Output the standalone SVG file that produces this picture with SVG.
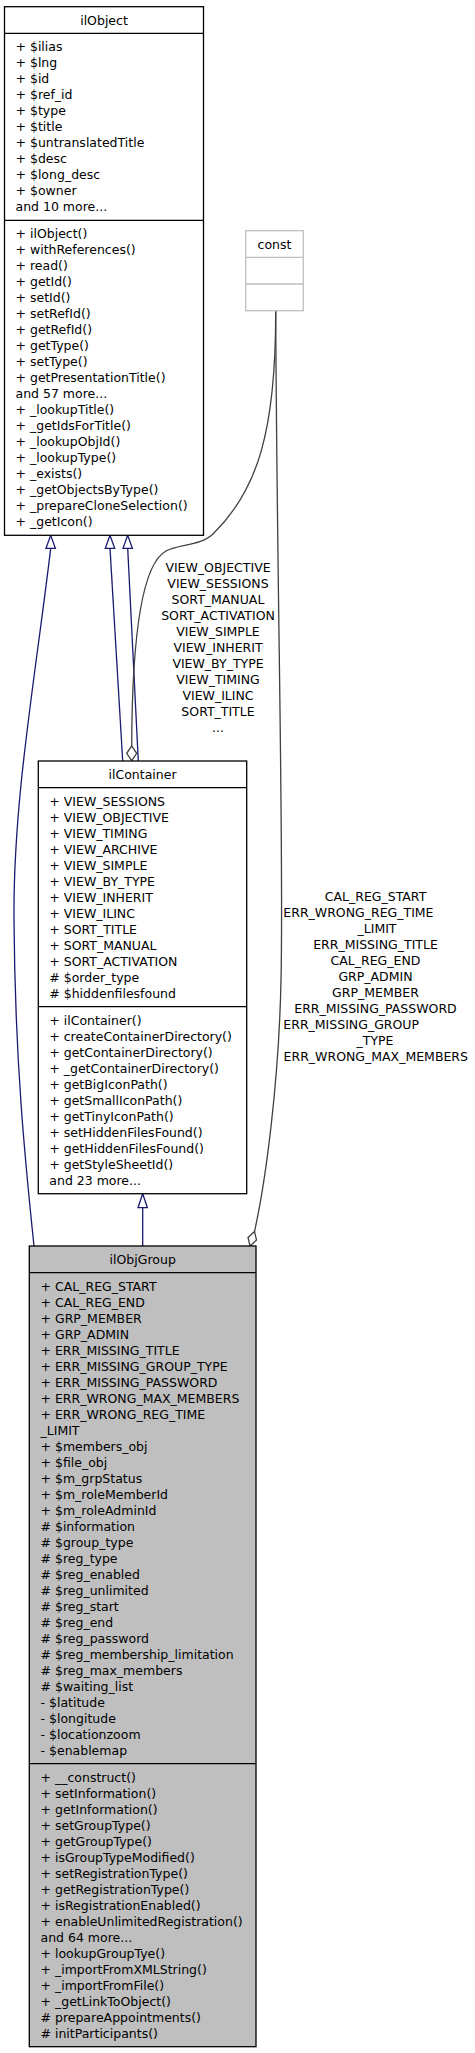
<svg xmlns="http://www.w3.org/2000/svg" width="475" height="2053" viewBox="0 0 475 2053">
<style>
text{font-family:"DejaVu Sans","Liberation Sans",sans-serif;font-size:12.5px;fill:#000}
.box{fill:#fff;stroke:#000;stroke-width:1.3}
.grp{fill:#bfbfbf;stroke:#000;stroke-width:1.3}
.sep{stroke:#000;stroke-width:1.3}
.cbox{fill:#fff;stroke:#bfbfbf;stroke-width:1.3}
.c{text-anchor:middle}
.inh{fill:none;stroke:#191970;stroke-width:1.3}
.tri{fill:#fff;stroke:#191970;stroke-width:1.3}
.use{fill:none;stroke:#404040;stroke-width:1.3}
.dia{fill:#fff;stroke:#404040;stroke-width:1.3}
</style>
<g id="connectors">
<path class="inh" d="M50.7,548.3 C35,680 13,800 14,920 C15,1060 25,1160 34,1246"/>
<polygon class="tri" points="50.7,535.3 46,548.3 55.4,548.3"/>
<path class="inh" d="M122.7,761 L110,548.3"/>
<polygon class="tri" points="110,535.3 105.3,548.3 114.7,548.3"/>
<path class="inh" d="M138.3,761 L127.7,548.3"/>
<polygon class="tri" points="127.7,535.3 123,548.3 132.4,548.3"/>
<path class="use" d="M275.7,310.7 C276,430 258,490 213,534 C200,546 180,544 166,551 C140,565 132,650 131.7,746"/>
<polygon class="dia" points="131.7,760.7 126.7,753.3 131.7,745.9 136.7,753.3"/>
<text class="c"><tspan x="218" y="571.8">VIEW_OBJECTIVE</tspan><tspan x="218" y="587.8">VIEW_SESSIONS</tspan><tspan x="218" y="603.8">SORT_MANUAL</tspan><tspan x="218" y="619.8">SORT_ACTIVATION</tspan><tspan x="218" y="635.8">VIEW_SIMPLE</tspan><tspan x="218" y="651.8">VIEW_INHERIT</tspan><tspan x="218" y="667.8">VIEW_BY_TYPE</tspan><tspan x="218" y="683.8">VIEW_TIMING</tspan><tspan x="218" y="699.8">VIEW_ILINC</tspan><tspan x="218" y="715.8">SORT_TITLE</tspan><tspan x="218" y="731.8">...</tspan></text>
<path class="inh" d="M142.7,1246 L142.7,1207.7"/>
<polygon class="tri" points="142.7,1193.7 138,1207.7 147.4,1207.7"/>
<path class="use" d="M275.7,310.7 C277,600 284,850 281,980 C279,1080 266,1180 254.5,1231.5"/>
<polygon class="dia" points="250,1246 248,1237.4 254.5,1231.5 256.5,1240.1"/>
<text class="c"><tspan x="375.5" y="901.2">CAL_REG_START</tspan><tspan x="283.3" y="917.2" style="text-anchor:start">ERR_WRONG_REG_TIME</tspan><tspan x="377" y="933.2">_LIMIT</tspan><tspan x="375.5" y="949.2">ERR_MISSING_TITLE</tspan><tspan x="375.5" y="965.2">CAL_REG_END</tspan><tspan x="375.5" y="981.2">GRP_ADMIN</tspan><tspan x="375.5" y="997.2">GRP_MEMBER</tspan><tspan x="375.5" y="1013.2">ERR_MISSING_PASSWORD</tspan><tspan x="283.3" y="1029.2" style="text-anchor:start">ERR_MISSING_GROUP</tspan><tspan x="375" y="1045.2">_TYPE</tspan><tspan x="375.8" y="1061.2">ERR_WRONG_MAX_MEMBERS</tspan></text>
</g>
<g id="ilObject">
<rect class="box" x="4.5" y="6.7" width="199" height="528.6"/>
<line class="sep" x1="4.5" y1="33.3" x2="203.5" y2="33.3"/>
<line class="sep" x1="4.5" y1="220.3" x2="203.5" y2="220.3"/>
<text class="c" x="104" y="24.5">ilObject</text>
<text><tspan x="15.5" y="51.1">+ $ilias</tspan><tspan x="15.5" y="67.1">+ $lng</tspan><tspan x="15.5" y="83.1">+ $id</tspan><tspan x="15.5" y="99.1">+ $ref_id</tspan><tspan x="15.5" y="115.1">+ $type</tspan><tspan x="15.5" y="131.1">+ $title</tspan><tspan x="15.5" y="147.1">+ $untranslatedTitle</tspan><tspan x="15.5" y="163.1">+ $desc</tspan><tspan x="15.5" y="179.1">+ $long_desc</tspan><tspan x="15.5" y="195.1">+ $owner</tspan><tspan x="15.5" y="211.1">and 10 more...</tspan></text>
<text><tspan x="15.5" y="238.1">+ ilObject()</tspan><tspan x="15.5" y="254.1">+ withReferences()</tspan><tspan x="15.5" y="270.1">+ read()</tspan><tspan x="15.5" y="286.1">+ getId()</tspan><tspan x="15.5" y="302.1">+ setId()</tspan><tspan x="15.5" y="318.1">+ setRefId()</tspan><tspan x="15.5" y="334.1">+ getRefId()</tspan><tspan x="15.5" y="350.1">+ getType()</tspan><tspan x="15.5" y="366.1">+ setType()</tspan><tspan x="15.5" y="382.1">+ getPresentationTitle()</tspan><tspan x="15.5" y="398.1">and 57 more...</tspan><tspan x="15.5" y="414.1">+ _lookupTitle()</tspan><tspan x="15.5" y="430.1">+ _getIdsForTitle()</tspan><tspan x="15.5" y="446.1">+ _lookupObjId()</tspan><tspan x="15.5" y="462.1">+ _lookupType()</tspan><tspan x="15.5" y="478.1">+ _exists()</tspan><tspan x="15.5" y="494.1">+ _getObjectsByType()</tspan><tspan x="15.5" y="510.1">+ _prepareCloneSelection()</tspan><tspan x="15.5" y="526.1">+ _getIcon()</tspan></text>
</g>
<g id="const">
<rect class="cbox" x="245.7" y="230.7" width="57.6" height="80"/>
<line class="cbox" x1="245.7" y1="257.3" x2="303.3" y2="257.3"/>
<line class="cbox" x1="245.7" y1="284" x2="303.3" y2="284"/>
<text class="c" x="274.5" y="248.5">const</text>
</g>
<g id="ilContainer">
<rect class="box" x="38.3" y="761" width="208.4" height="432.7"/>
<line class="sep" x1="38.3" y1="787.7" x2="246.7" y2="787.7"/>
<line class="sep" x1="38.3" y1="1006.7" x2="246.7" y2="1006.7"/>
<text class="c" x="142.5" y="778.8">ilContainer</text>
<text><tspan x="49.3" y="805.5">+ VIEW_SESSIONS</tspan><tspan x="49.3" y="821.5">+ VIEW_OBJECTIVE</tspan><tspan x="49.3" y="837.5">+ VIEW_TIMING</tspan><tspan x="49.3" y="853.5">+ VIEW_ARCHIVE</tspan><tspan x="49.3" y="869.5">+ VIEW_SIMPLE</tspan><tspan x="49.3" y="885.5">+ VIEW_BY_TYPE</tspan><tspan x="49.3" y="901.5">+ VIEW_INHERIT</tspan><tspan x="49.3" y="917.5">+ VIEW_ILINC</tspan><tspan x="49.3" y="933.5">+ SORT_TITLE</tspan><tspan x="49.3" y="949.5">+ SORT_MANUAL</tspan><tspan x="49.3" y="965.5">+ SORT_ACTIVATION</tspan><tspan x="49.3" y="981.5"># $order_type</tspan><tspan x="49.3" y="997.5"># $hiddenfilesfound</tspan></text>
<text><tspan x="49.3" y="1024.5">+ ilContainer()</tspan><tspan x="49.3" y="1040.5">+ createContainerDirectory()</tspan><tspan x="49.3" y="1056.5">+ getContainerDirectory()</tspan><tspan x="49.3" y="1072.5">+ _getContainerDirectory()</tspan><tspan x="49.3" y="1088.5">+ getBigIconPath()</tspan><tspan x="49.3" y="1104.5">+ getSmallIconPath()</tspan><tspan x="49.3" y="1120.5">+ getTinyIconPath()</tspan><tspan x="49.3" y="1136.5">+ setHiddenFilesFound()</tspan><tspan x="49.3" y="1152.5">+ getHiddenFilesFound()</tspan><tspan x="49.3" y="1168.5">+ getStyleSheetId()</tspan><tspan x="49.3" y="1184.5">and 23 more...</tspan></text>
</g>
<g id="ilObjGroup">
<rect class="grp" x="29.3" y="1246" width="226.7" height="800.7"/>
<line class="sep" x1="29.3" y1="1272.7" x2="256" y2="1272.7"/>
<line class="sep" x1="29.3" y1="1763.7" x2="256" y2="1763.7"/>
<text class="c" x="142.7" y="1263.8">ilObjGroup</text>
<text><tspan x="40.5" y="1290.5">+ CAL_REG_START</tspan><tspan x="40.5" y="1306.5">+ CAL_REG_END</tspan><tspan x="40.5" y="1322.5">+ GRP_MEMBER</tspan><tspan x="40.5" y="1338.5">+ GRP_ADMIN</tspan><tspan x="40.5" y="1354.5">+ ERR_MISSING_TITLE</tspan><tspan x="40.5" y="1370.5">+ ERR_MISSING_GROUP_TYPE</tspan><tspan x="40.5" y="1386.5">+ ERR_MISSING_PASSWORD</tspan><tspan x="40.5" y="1402.5">+ ERR_WRONG_MAX_MEMBERS</tspan><tspan x="40.5" y="1418.5">+ ERR_WRONG_REG_TIME</tspan><tspan x="40.5" y="1434.5">_LIMIT</tspan><tspan x="40.5" y="1450.5">+ $members_obj</tspan><tspan x="40.5" y="1466.5">+ $file_obj</tspan><tspan x="40.5" y="1482.5">+ $m_grpStatus</tspan><tspan x="40.5" y="1498.5">+ $m_roleMemberId</tspan><tspan x="40.5" y="1514.5">+ $m_roleAdminId</tspan><tspan x="40.5" y="1530.5"># $information</tspan><tspan x="40.5" y="1546.5"># $group_type</tspan><tspan x="40.5" y="1562.5"># $reg_type</tspan><tspan x="40.5" y="1578.5"># $reg_enabled</tspan><tspan x="40.5" y="1594.5"># $reg_unlimited</tspan><tspan x="40.5" y="1610.5"># $reg_start</tspan><tspan x="40.5" y="1626.5"># $reg_end</tspan><tspan x="40.5" y="1642.5"># $reg_password</tspan><tspan x="40.5" y="1658.5"># $reg_membership_limitation</tspan><tspan x="40.5" y="1674.5"># $reg_max_members</tspan><tspan x="40.5" y="1690.5"># $waiting_list</tspan><tspan x="40.5" y="1706.5">- $latitude</tspan><tspan x="40.5" y="1722.5">- $longitude</tspan><tspan x="40.5" y="1738.5">- $locationzoom</tspan><tspan x="40.5" y="1754.5">- $enablemap</tspan></text>
<text><tspan x="40.5" y="1781.5">+ __construct()</tspan><tspan x="40.5" y="1797.5">+ setInformation()</tspan><tspan x="40.5" y="1813.5">+ getInformation()</tspan><tspan x="40.5" y="1829.5">+ setGroupType()</tspan><tspan x="40.5" y="1845.5">+ getGroupType()</tspan><tspan x="40.5" y="1861.5">+ isGroupTypeModified()</tspan><tspan x="40.5" y="1877.5">+ setRegistrationType()</tspan><tspan x="40.5" y="1893.5">+ getRegistrationType()</tspan><tspan x="40.5" y="1909.5">+ isRegistrationEnabled()</tspan><tspan x="40.5" y="1925.5">+ enableUnlimitedRegistration()</tspan><tspan x="40.5" y="1941.5">and 64 more...</tspan><tspan x="40.5" y="1957.5">+ lookupGroupTye()</tspan><tspan x="40.5" y="1973.5">+ _importFromXMLString()</tspan><tspan x="40.5" y="1989.5">+ _importFromFile()</tspan><tspan x="40.5" y="2005.5">+ _getLinkToObject()</tspan><tspan x="40.5" y="2021.5"># prepareAppointments()</tspan><tspan x="40.5" y="2037.5"># initParticipants()</tspan></text>
</g>
</svg>
